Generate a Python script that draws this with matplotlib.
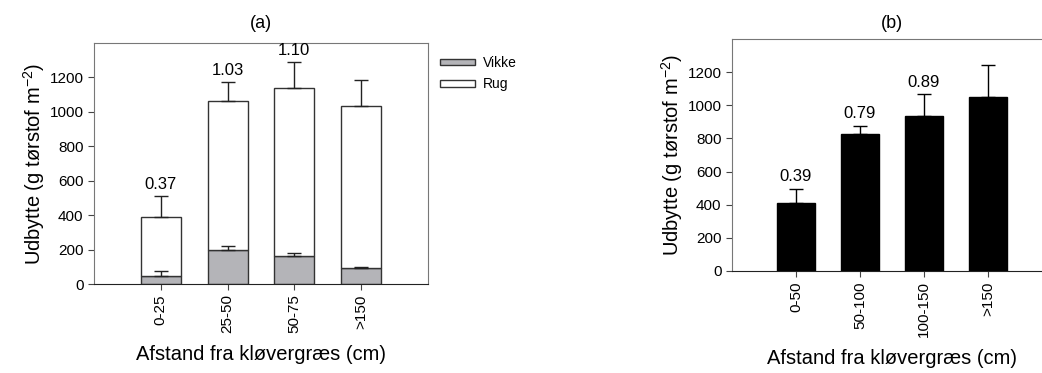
import matplotlib
matplotlib.use("Agg")
import matplotlib.pyplot as plt
import numpy as np

plt.rcParams['font.family'] = ['Liberation Sans', 'DejaVu Sans']
plt.rcParams['mathtext.default'] = 'regular'

# (a) vikke / rug blanding
cats_a = ['0-25', '25-50', '50-75', '>150']
vikke = [46, 199, 161, 95]
vikke_err = [28, 22, 19, 4]
total_a = [387, 1066, 1138, 1033]
total_a_err = [124, 107, 151, 151]
rug = [t - v for t, v in zip(total_a, vikke)]
ratio_a = ['0.37', '1.03', '1.10', '']

# (b) rug alene
cats_b = ['0-50', '50-100', '100-150', '>150']
total_b = [410, 824, 937, 1048]
total_b_err = [87, 53, 130, 196]
ratio_b = ['0.39', '0.79', '0.89', '']

ylab = 'Udbytte (g tørstof m$^{-2}$)'
xlab = 'Afstand fra kløvergræs (cm)'
lab_font = dict(fontsize=14.5)

fig = plt.figure(figsize=(10.42, 3.73), dpi=100)
ax1 = fig.add_axes([0.0902, 0.2386, 0.3205, 0.646])
ax2 = fig.add_axes([0.7025, 0.2735, 0.307, 0.622])


def style(ax):
    for s in ['left', 'top', 'right']:
        ax.spines[s].set_color('#777777')
    ax.spines['bottom'].set_color('#222222')
    ax.set_xlim(-1, 4)
    ax.set_ylim(0, 1400)
    ax.set_yticks(np.arange(0, 1201, 200))
    ax.tick_params(axis='both', direction='out', length=4, labelsize=11, color='#444444')
    ax.tick_params(axis='x', rotation=90)


x = np.arange(len(cats_a))
ax1.bar(x, vikke, 0.6, color='#b4b4b8', edgecolor='#333333', linewidth=1, label='Vikke', zorder=2)
ax1.bar(x, rug, 0.6, bottom=vikke, color='white', edgecolor='#333333', linewidth=1, label='Rug', zorder=2)
ax1.errorbar(x, vikke, yerr=[np.zeros(4), vikke_err], fmt='none', ecolor='#222222',
             elinewidth=1, capsize=5, capthick=1, zorder=3)
ax1.errorbar(x, total_a, yerr=[np.zeros(4), total_a_err], fmt='none', ecolor='#222222',
             elinewidth=1, capsize=5, capthick=1, zorder=3)
for xi, t, e, r in zip(x, total_a, total_a_err, ratio_a):
    ax1.annotate(r, (xi, t + e), xytext=(0, 3), textcoords='offset points',
                 ha='center', va='bottom', fontsize=12)
style(ax1)
ax1.set_xticks(x, cats_a)
ax1.set_title('(a)', pad=11, fontsize=13)
ax1.set_ylabel(ylab, labelpad=2, **lab_font)
ax1.set_xlabel(xlab, labelpad=8, **lab_font)
ax1.legend(loc='upper left', bbox_to_anchor=(1.02, 0.97), frameon=False, fontsize=10,
           handlelength=2.5, handleheight=0.35, handletextpad=0.6, labelspacing=0.55,
           borderaxespad=0)

xb = np.arange(len(cats_b))
ax2.bar(xb, total_b, 0.6, color='black', edgecolor='black', zorder=2)
ax2.errorbar(xb, total_b, yerr=[np.zeros(4), total_b_err], fmt='none', ecolor='black',
             elinewidth=1, capsize=5, capthick=1, zorder=3)
for xi, t, e, r in zip(xb, total_b, total_b_err, ratio_b):
    ax2.annotate(r, (xi, t + e), xytext=(0, 3), textcoords='offset points',
                 ha='center', va='bottom', fontsize=12)
style(ax2)
ax2.set_xticks(xb, cats_b)
ax2.set_title('(b)', pad=8, fontsize=13)
ax2.set_ylabel(ylab, labelpad=2, **lab_font)
ax2.set_xlabel(xlab, labelpad=8, **lab_font)

fig.savefig('out.png', dpi=100)
